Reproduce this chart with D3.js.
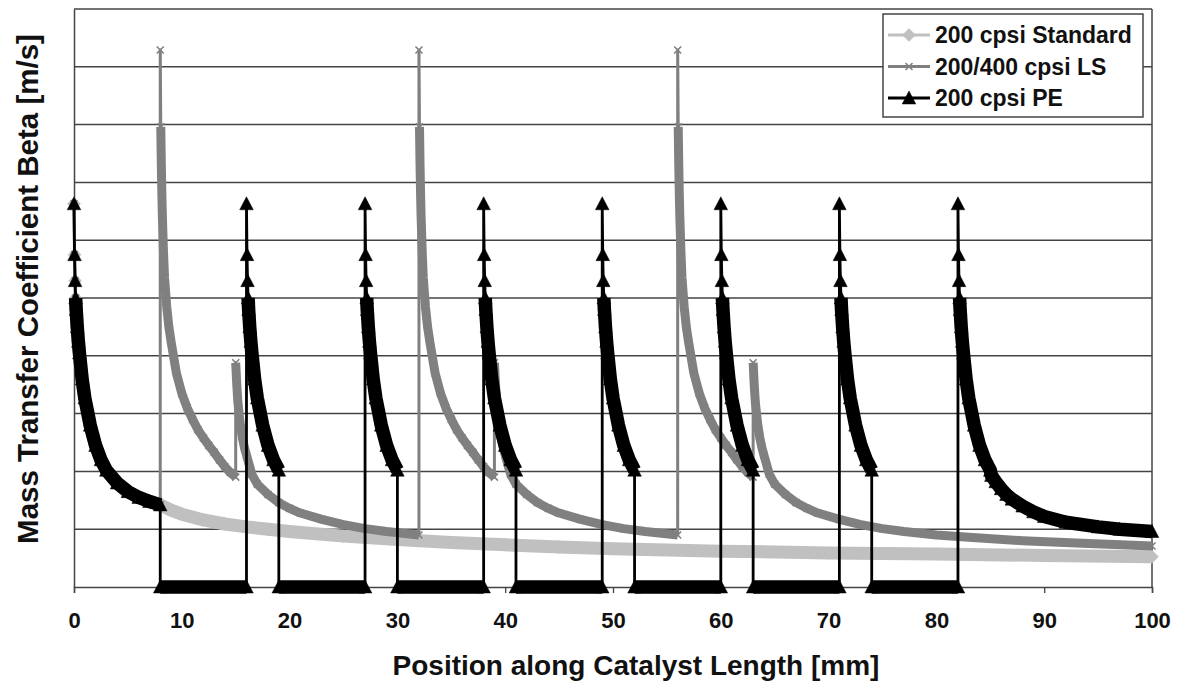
<!DOCTYPE html>
<html><head><meta charset="utf-8">
<script src="https://cdn.jsdelivr.net/npm/d3@7"></script>
<style>
body{margin:0;background:#fff}
svg{display:block}
text{font-family:"Liberation Sans",Arial,sans-serif;font-weight:bold;fill:#111}
</style>
</head><body><svg id="c" width="1180" height="683"></svg>
<script>
// ---------------- data ----------------
const xTickValues = [0,10,20,30,40,50,60,70,80,90,100];
const yGridValues = [1,2,3,4,5,6,7,8,9,10];
const seriesNames = ["200 cpsi Standard","200/400 cpsi LS","200 cpsi PE"];

// 200 cpsi Standard: position [mm] / beta (relative units of the unlabeled y axis)
const stdX = [0,0.05,0.1,0.15,0.2,0.3,0.4,0.5,0.75,1,1.5,2,2.5,3,4,5,6,7,8,9,10,12,14,16,18,20,25,30,35,40,45,50,60,70,80,90,100];
const stdV = [6.63,5.75,5.3,5.0,4.8,4.5,4.25,4.05,3.6,3.27,2.8,2.45,2.2,2.02,1.8,1.65,1.55,1.48,1.42,1.33,1.26,1.16,1.09,1.04,1.0,0.96,0.88,0.82,0.77,0.73,0.69,0.66,0.62,0.59,0.57,0.545,0.525];

// 200/400 cpsi LS: 400 cpsi sections (distance from section start / beta)
const lsHiX = [0,0.05,0.1,0.15,0.2,0.3,0.4,0.6,0.8,1,1.5,2,2.5,3,3.5,4,4.5,5,5.5,6,6.5,7];
const lsHiV = [9.29,7.96,7.3,6.8,6.4,5.8,5.35,4.85,4.5,4.25,3.7,3.35,3.1,2.9,2.72,2.58,2.45,2.33,2.2,2.08,1.98,1.9];
// 200/400 cpsi LS: 200 cpsi sections (distance from section start / beta)
const lsLoX = [0,0.1,0.2,0.4,0.6,0.8,1,1.5,2,3,4,5,6,8,10,12,14,17,20,25,30,37];
const lsLoV = [3.88,3.5,3.2,2.85,2.6,2.42,2.28,1.95,1.78,1.6,1.46,1.36,1.28,1.17,1.08,1.01,0.96,0.9,0.86,0.8,0.76,0.71];
const lsHiStarts = [8,32,56];
const lsLoStarts = [15,39,63];
const lsLoEnds   = [32,56,100];

// 200 cpsi PE: first section follows the standard curve to 8 mm, then
// 3 mm sections (same entry profile) separated by zero gaps
const peFirstEnd = 8;
const peSpikeStarts = [16,27,38,49,60,71,82];
const peSpikeLen = 3;
const peZeroStarts = [8,19,30,41,52,63,74];
const peZeroEnds   = [16,27,38,49,60,71,82];
// last PE section after 85 mm (distance from 82 mm / beta)
const peTailX = [3.1,3.5,4,4.5,5,6,7,8,10,13,15,18];
const peTailV = [1.93,1.82,1.7,1.6,1.52,1.4,1.3,1.22,1.12,1.04,1.0,0.96];

// ---------------- build series ----------------
function profileSeg(start, xs, vs, maxRel, denseFrom){
  return xs.map((x,i)=>({x:start+x, v:vs[i], dense:x>=denseFrom}))
           .filter((p,i)=>xs[i]<=maxRel+1e-9);
}
const stdSegs = [profileSeg(0, stdX, stdV, 100, 0.15)];
const lsSegs = [profileSeg(0, stdX, stdV, 8, 0.15)];
lsHiStarts.forEach((s,i)=>{
  lsSegs.push(profileSeg(s, lsHiX, lsHiV, lsLoStarts[i]-s, 0.05));
  lsSegs.push(profileSeg(lsLoStarts[i], lsLoX, lsLoV, lsLoEnds[i]-lsLoStarts[i], 0));
});
const peSegs = [profileSeg(0, stdX, stdV, peFirstEnd, 0.15)];
peSpikeStarts.forEach((s,i)=>{
  peSegs.push([{x:peZeroStarts[i],v:0,dense:true},{x:peZeroEnds[i],v:0,dense:true}]);
  const seg = profileSeg(s, stdX, stdV, peSpikeLen, 0.15);
  if(i===peSpikeStarts.length-1){
    peTailX.forEach((x,j)=>seg.push({x:s+x, v:peTailV[j], dense:true}));
  }
  peSegs.push(seg);
});

// ---------------- drawing ----------------
const svg = d3.select("#c");
const x = d3.scaleLinear().domain([0,100]).range([74,1152]);
const y = d3.scaleLinear().domain([0,10]).range([587,9]);
const gridCol = "#444";

// gridlines
svg.append("g").selectAll("line").data(yGridValues).join("line")
  .attr("x1",x(0)).attr("x2",x(100)).attr("y1",d=>y(d)).attr("y2",d=>y(d))
  .attr("stroke",gridCol).attr("stroke-width",1.5);
// right border
svg.append("line").attr("x1",x(100)).attr("x2",x(100)).attr("y1",y(10)).attr("y2",y(0))
  .attr("stroke",gridCol).attr("stroke-width",1.5);

// x axis
const xAxis = d3.axisBottom(x).tickValues(xTickValues).tickSize(6).tickPadding(19).tickFormat(d3.format("d"));
const gx = svg.append("g").attr("transform",`translate(0,${y(0)})`).call(xAxis);
gx.select(".domain").attr("stroke",gridCol).attr("stroke-width",1.5);
gx.selectAll(".tick line").attr("stroke",gridCol).attr("stroke-width",1.3);
gx.selectAll(".tick text").attr("font-size",22).attr("font-family",'"Liberation Sans",Arial,sans-serif')
  .attr("font-weight","bold").attr("fill","#111");
// y axis (no labels)
const gy = svg.append("g").attr("transform",`translate(${x(0)},0)`)
  .call(d3.axisLeft(y).tickValues([]).tickSize(0));
gy.select(".domain").attr("stroke",gridCol).attr("stroke-width",1.5);

const line = d3.line().x(d=>x(d.x)).y(d=>y(d.v));

const markers = {
  diamond: "M0,-6.5L6.5,0L0,6.5L-6.5,0Z",
  cross: "M-3.5,-3.5L3.5,3.5M3.5,-3.5L-3.5,3.5",
  triangle: "M0,-7L6.8,6L-6.8,6Z"
};

function drawSeries(segs, col, bandW, lineW, mk, mkFill){
  const g = svg.append("g");
  // dense marker band
  segs.forEach(seg=>{
    const d = seg.filter(p=>p.dense);
    if(d.length>1){
      g.append("path").attr("d",line(d)).attr("fill","none").attr("stroke",col)
        .attr("stroke-width",bandW).attr("stroke-linejoin","round").attr("stroke-linecap","butt");
    }
  });
  // connecting line
  const all = segs.flat();
  g.append("path").attr("d",line(all)).attr("fill","none").attr("stroke",col)
    .attr("stroke-width",lineW).attr("stroke-linejoin","round");
  // markers
  g.selectAll(".m").data(all).join("path").attr("class","m")
    .attr("transform",d=>`translate(${x(d.x)},${y(d.v)})`)
    .attr("d",markers[mk])
    .attr("fill",mkFill?col:"none").attr("stroke",col).attr("stroke-width",mkFill?0.5:1.6);
}

drawSeries(stdSegs, "#c0c0c0", 13, 3, "diamond", true);
drawSeries(lsSegs, "#808080", 9, 3, "cross", false);
drawSeries(peSegs, "#000000", 13.5, 2.8, "triangle", true);

// axis titles
svg.append("text").attr("x",636).attr("y",675).attr("text-anchor","middle")
  .attr("font-size",28).text("Position along Catalyst Length [mm]");
svg.append("text").attr("transform","translate(38,289) rotate(-90)").attr("text-anchor","middle")
  .attr("font-size",29.5).text("Mass Transfer Coefficient Beta [m/s]");

// legend
const lg = svg.append("g");
lg.append("rect").attr("x",883).attr("y",14).attr("width",260).attr("height",103)
  .attr("fill","#fff").attr("stroke",gridCol).attr("stroke-width",1.5);
const legCols = ["#c0c0c0","#808080","#000000"];
const legMk = ["diamond","cross","triangle"];
seriesNames.forEach((n,i)=>{
  const cy = 35 + i*31.5;
  lg.append("line").attr("x1",888).attr("x2",930).attr("y1",cy).attr("y2",cy)
    .attr("stroke",legCols[i]).attr("stroke-width",3);
  lg.append("path").attr("transform",`translate(909,${cy})`).attr("d",markers[legMk[i]])
    .attr("fill",i===1?"none":legCols[i]).attr("stroke",legCols[i]).attr("stroke-width",i===1?1.6:0.5);
  lg.append("text").attr("x",935).attr("y",cy+8).attr("font-size",23).text(n);
});
</script></body></html>
